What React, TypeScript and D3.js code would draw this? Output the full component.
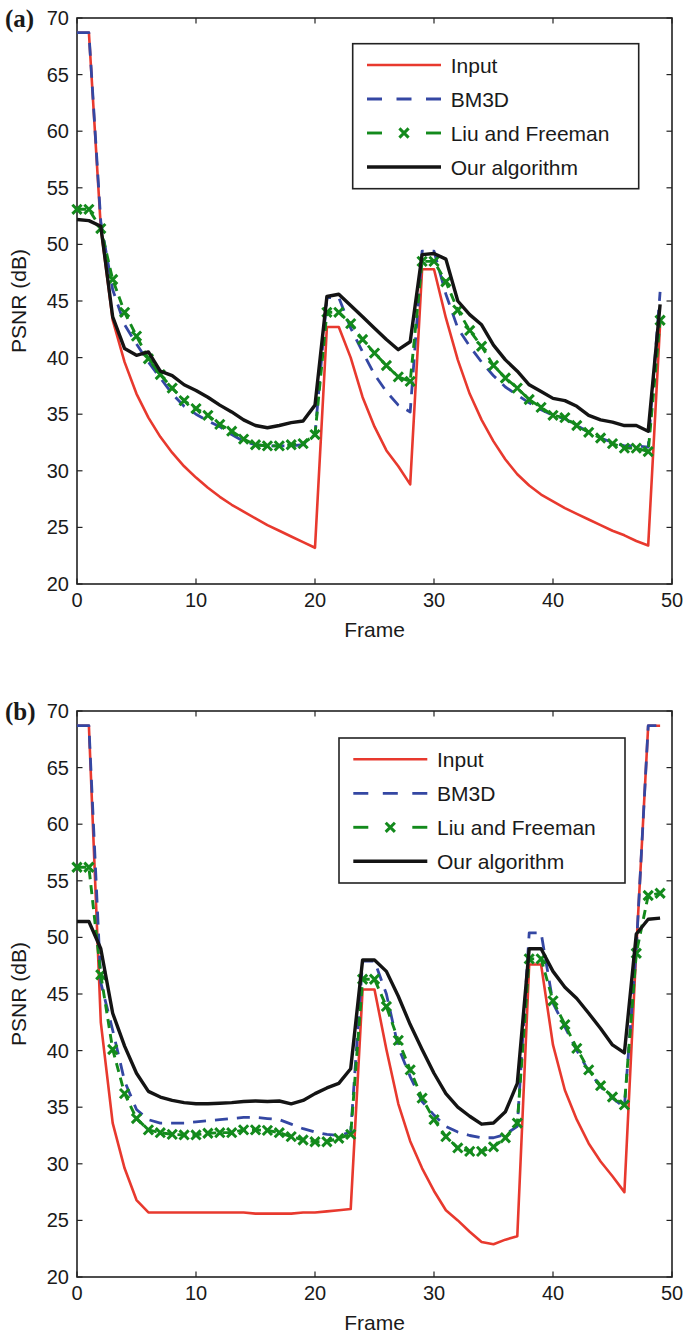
import * as d3 from "d3";

const WIDTH = 683;
const HEIGHT = 1335;

// PSNR per frame, panel (a)
const inputA = [68.7, 68.7, 51.5, 43.3, 39.6, 36.8, 34.7, 33.0, 31.6, 30.4, 29.4, 28.5, 27.7, 27.0, 26.4, 25.8, 25.2, 24.7, 24.2, 23.7, 23.2, 42.7, 42.7, 40.0, 36.5, 33.9, 31.8, 30.4, 28.8, 47.8, 47.8, 43.5, 39.8, 36.8, 34.5, 32.6, 31.0, 29.7, 28.7, 27.9, 27.3, 26.7, 26.2, 25.7, 25.2, 24.7, 24.3, 23.8, 23.4, 43.0];
const bm3dA = [68.7, 68.7, 52.0, 46.0, 42.9, 41.2, 39.6, 38.2, 36.8, 35.7, 35.0, 34.4, 33.9, 33.2, 32.6, 32.3, 32.2, 32.2, 32.2, 32.3, 33.2, 45.3, 45.3, 42.6, 40.5, 38.5, 37.0, 35.8, 35.2, 49.4, 49.4, 45.6, 42.6, 41.0, 39.6, 38.4, 37.4, 36.7, 36.0, 35.4, 34.9, 34.6, 34.0, 33.4, 32.9, 32.5, 32.2, 32.2, 32.1, 45.8];
const liuA = [53.1, 53.1, 51.4, 46.9, 44.0, 41.9, 39.9, 38.5, 37.3, 36.2, 35.5, 34.9, 34.1, 33.5, 32.8, 32.3, 32.2, 32.2, 32.3, 32.4, 33.2, 44.0, 44.0, 43.0, 41.6, 40.4, 39.3, 38.3, 37.9, 48.5, 48.5, 46.7, 44.2, 42.4, 41.0, 39.3, 38.2, 37.3, 36.3, 35.6, 34.9, 34.7, 34.0, 33.4, 32.9, 32.4, 32.0, 32.0, 31.7, 43.3];
const oursA = [52.2, 52.1, 51.6, 43.6, 40.8, 40.2, 40.5, 38.8, 38.4, 37.6, 37.1, 36.5, 35.8, 35.2, 34.5, 34.0, 33.8, 34.0, 34.25, 34.4, 35.8, 45.4, 45.6, 44.6, 43.6, 42.6, 41.6, 40.7, 41.4, 49.1, 49.2, 48.7, 45.0, 43.8, 42.9, 41.1, 39.8, 38.8, 37.6, 37.0, 36.4, 36.2, 35.7, 34.9, 34.5, 34.3, 34.0, 34.0, 33.5, 44.7];

// PSNR per frame, panel (b)
const inputB = [68.7, 68.7, 42.5, 33.6, 29.6, 26.8, 25.7, 25.7, 25.7, 25.7, 25.7, 25.7, 25.7, 25.7, 25.7, 25.6, 25.6, 25.6, 25.6, 25.7, 25.7, 25.8, 25.9, 26.0, 45.4, 45.4, 40.1, 35.3, 32.0, 29.6, 27.6, 25.9, 25.0, 24.0, 23.1, 22.9, 23.3, 23.6, 47.6, 47.6, 40.5, 36.5, 33.9, 31.8, 30.2, 28.9, 27.5, 49.0, 68.7, 68.7];
const bm3dB = [68.7, 68.7, 46.0, 41.8, 37.3, 34.8, 33.9, 33.6, 33.6, 33.6, 33.7, 33.8, 33.9, 34.0, 34.1, 34.1, 34.0, 33.9, 33.5, 33.1, 32.8, 32.6, 32.5, 32.8, 47.9, 47.9, 45.0, 40.3, 37.7, 35.5, 34.3, 33.3, 32.8, 32.5, 32.3, 32.3, 32.6, 33.3, 50.4, 50.4, 44.2, 42.1, 40.0, 38.2, 36.8, 35.8, 35.0, 49.0, 68.7, 68.7];
const liuB = [56.2, 56.2, 46.7, 40.1, 36.2, 34.0, 33.0, 32.75, 32.6, 32.55, 32.55, 32.7, 32.75, 32.75, 33.0, 33.0, 32.95, 32.75, 32.4, 32.1, 31.95, 31.95, 32.25, 32.6, 46.3, 46.3, 43.9, 40.9, 38.3, 35.8, 33.9, 32.4, 31.4, 31.1, 31.1, 31.5, 32.3, 33.6, 48.1, 48.1, 44.4, 42.3, 40.2, 38.3, 36.9, 35.9, 35.2, 48.6, 53.7, 53.9];
const oursB = [51.4, 51.4, 49.0, 43.3, 40.4, 38.0, 36.4, 35.9, 35.6, 35.4, 35.3, 35.3, 35.35, 35.4, 35.5, 35.55, 35.5, 35.55, 35.3, 35.6, 36.2, 36.7, 37.1, 38.4, 48.0, 48.0, 47.0, 44.8, 42.3, 40.1, 38.0, 36.2, 35.0, 34.2, 33.5, 33.6, 34.6, 37.1, 49.0, 49.0, 47.0, 45.6, 44.6, 43.3, 41.95, 40.5, 39.8, 50.3, 51.6, 51.7];

const seriesNames = ["Input", "BM3D", "Liu and Freeman", "Our algorithm"];
const xTicks = [0, 10, 20, 30, 40, 50];
const yTicks = [20, 25, 30, 35, 40, 45, 50, 55, 60, 65, 70];

const STYLES = [
  { color: "#e8392e", width: 2.6, dash: null, marker: false },
  { color: "#3447a3", width: 2.8, dash: "13 9", marker: false },
  { color: "#138a1c", width: 2.9, dash: "9 6", marker: true },
  { color: "#141414", width: 3.4, dash: null, marker: false }
];

const FONT = "'Liberation Sans', Arial, Helvetica, sans-serif";
const TEXT = "#1a1a1a";
const AXIS = "#222";
const LEFT = 77;
const RIGHT = 672;
const TICK = 5.5;

const PANELS = [
  { tag: "(a)", top: 18, bottom: 584, series: [inputA, bm3dA, liuA, oursA], legend: { x: 352.7, y: 43.7 } },
  { tag: "(b)", top: 711, bottom: 1277, series: [inputB, bm3dB, liuB, oursB], legend: { x: 339, y: 738 } }
];

const crossPath = (r: number) => `M${-r},${-r}L${r},${r}M${-r},${r}L${r},${-r}`;

function Panel({ panel }: { panel: (typeof PANELS)[number] }) {
  const x = d3.scaleLinear().domain([0, 50]).range([LEFT, RIGHT]);
  const y = d3.scaleLinear().domain([20, 70]).range([panel.bottom, panel.top]);
  const line = d3
    .line<number>()
    .x((_, i) => x(i))
    .y((d) => y(d));
  const midY = (panel.top + panel.bottom) / 2;
  const lg = panel.legend;

  return (
    <g>
      {/* frame box */}
      <rect x={LEFT} y={panel.top} width={RIGHT - LEFT} height={panel.bottom - panel.top} fill="none" stroke={AXIS} strokeWidth={1.6} />
      {xTicks.map((t) => (
        <g key={"x" + t}>
          <line x1={x(t)} x2={x(t)} y1={panel.bottom} y2={panel.bottom - TICK} stroke={AXIS} strokeWidth={1.2} />
          <line x1={x(t)} x2={x(t)} y1={panel.top} y2={panel.top + TICK} stroke={AXIS} strokeWidth={1.2} />
          <text x={x(t)} y={panel.bottom + 23} textAnchor="middle" fontSize={20} fill={TEXT} fontFamily={FONT}>
            {t}
          </text>
        </g>
      ))}
      {yTicks.map((t) => (
        <g key={"y" + t}>
          <line x1={LEFT} x2={LEFT + TICK} y1={y(t)} y2={y(t)} stroke={AXIS} strokeWidth={1.2} />
          <line x1={RIGHT} x2={RIGHT - TICK} y1={y(t)} y2={y(t)} stroke={AXIS} strokeWidth={1.2} />
          <text x={69} y={y(t) + 7} textAnchor="end" fontSize={20} fill={TEXT} fontFamily={FONT}>
            {t}
          </text>
        </g>
      ))}
      <text x={(LEFT + RIGHT) / 2} y={panel.bottom + 53} textAnchor="middle" fontSize={21} fill={TEXT} fontFamily={FONT}>
        Frame
      </text>
      <text transform={`translate(26, ${midY}) rotate(-90)`} textAnchor="middle" fontSize={21} fill={TEXT} fontFamily={FONT}>
        PSNR (dB)
      </text>
      <text x={5} y={panel.top + 9} fontSize={25} fontWeight="bold" fill={TEXT} fontFamily="'Liberation Serif', 'Times New Roman', serif">
        {panel.tag}
      </text>

      {panel.series.map((values, si) => {
        const s = STYLES[si];
        return (
          <g key={si}>
            <path d={line(values) ?? ""} fill="none" stroke={s.color} strokeWidth={s.width} strokeDasharray={s.dash ?? undefined} strokeLinejoin="round" />
            {s.marker &&
              values.map((v, i) => (
                <path key={i} d={crossPath(4.6)} transform={`translate(${x(i)},${y(v)})`} stroke={s.color} strokeWidth={3} fill="none" />
              ))}
          </g>
        );
      })}

      {/* legend */}
      <rect x={lg.x} y={lg.y} width={286} height={145} fill="#fff" stroke={AXIS} strokeWidth={1.6} />
      {seriesNames.map((name, i) => {
        const s = STYLES[i];
        const ry = lg.y + 21.3 + i * 34;
        const x0 = lg.x + 14.3;
        const x1 = lg.x + 88.3;
        return (
          <g key={name}>
            {s.marker ? (
              <>
                <line x1={x0} x2={x0 + 15} y1={ry} y2={ry} stroke={s.color} strokeWidth={s.width} />
                <line x1={x1 - 15} x2={x1} y1={ry} y2={ry} stroke={s.color} strokeWidth={s.width} />
                <path d={crossPath(4.6)} transform={`translate(${(x0 + x1) / 2},${ry})`} stroke={s.color} strokeWidth={3} fill="none" />
              </>
            ) : (
              <line x1={x0} x2={x1} y1={ry} y2={ry} stroke={s.color} strokeWidth={s.width} strokeDasharray={s.dash ? "15 14.5" : undefined} />
            )}
            <text x={lg.x + 98} y={ry + 7.5} fontSize={21} fill={TEXT} fontFamily={FONT}>
              {name}
            </text>
          </g>
        );
      })}
    </g>
  );
}

export default function App() {
  return (
    <svg
      width={WIDTH}
      height={HEIGHT}
      viewBox={`0 0 ${WIDTH} ${HEIGHT}`}
      style={{ position: "absolute", left: 0, top: 0, background: "#fff" }}
    >
      <rect width={WIDTH} height={HEIGHT} fill="#fff" />
      {PANELS.map((p) => (
        <Panel key={p.tag} panel={p} />
      ))}
    </svg>
  );
}
